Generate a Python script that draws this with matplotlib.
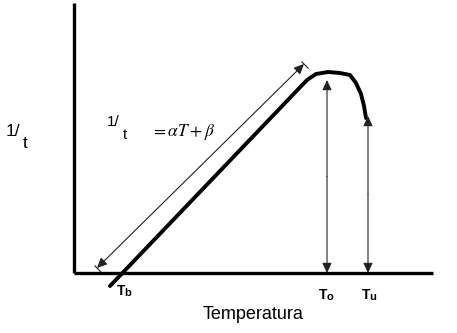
import matplotlib
matplotlib.use("Agg")
import matplotlib.pyplot as plt
import numpy as np

# Schematic coordinates (pixel-like units, y downward)
axis_x = [73.5, 73.5]
axis_y = [3, 273]
xaxis_x = [73.5, 433]
xaxis_y = [273, 273]

curve_T = [110, 307, 316, 328, 340, 350, 356, 361, 364, 366]
curve_r = [286, 80, 74, 72, 73, 75, 83, 94, 106, 118]

dim_start = (97, 268)
dim_end = (304, 64)

To_x = 327
To_top = 80
Tu_x = 368
Tu_top = 116
base_y = 273

plt.rcParams["mathtext.fontset"] = "stix"
fig = plt.figure(figsize=(4.57, 3.33), dpi=100)
ax = fig.add_axes([0, 0, 1, 1])
ax.set_xlim(0, 457)
ax.set_ylim(333, 0)
ax.axis("off")

ax.plot(axis_x, axis_y, color="black", lw=2.4, solid_capstyle="butt")
ax.plot(xaxis_x, xaxis_y, color="black", lw=2.4, solid_capstyle="butt")
ax.plot(curve_T, curve_r, color="black", lw=2.8, solid_capstyle="round", solid_joinstyle="round")

arrow_kw = dict(arrowstyle="-|>,head_length=0.6,head_width=0.28", color="#222222", lw=0.8,
                shrinkA=0, shrinkB=0)
# dimension arrow parallel to linear part
mid = ((dim_start[0] + dim_end[0]) / 2, (dim_start[1] + dim_end[1]) / 2)
ax.annotate("", xy=dim_end, xytext=mid, arrowprops=arrow_kw)
ax.annotate("", xy=dim_start, xytext=mid, arrowprops=arrow_kw)
# extension ticks
d = np.array([dim_end[0] - dim_start[0], dim_end[1] - dim_start[1]], float)
d /= np.hypot(*d)
n = -np.array([d[1], -d[0]])
for p in (dim_start, dim_end):
    ax.plot([p[0] - n[0] * 3, p[0] + n[0] * 6], [p[1] - n[1] * 3, p[1] + n[1] * 6],
            color="#222222", lw=0.8)

# vertical arrows
for x, top in ((To_x, To_top), (Tu_x, Tu_top)):
    m = (top + base_y) / 2
    ax.annotate("", xy=(x, top), xytext=(x, m), arrowprops=arrow_kw)
    ax.annotate("", xy=(x, base_y), xytext=(x, m), arrowprops=arrow_kw)

# labels
lab = dict(fontweight="bold", family="Liberation Sans")
ax.text(117, 295, "T", fontsize=10, **lab)
ax.text(124.5, 296, "b", fontsize=8, **lab)
ax.text(319, 299, "T", fontsize=10, **lab)
ax.text(326.5, 300, "o", fontsize=8, **lab)
ax.text(362, 299, "T", fontsize=10, **lab)
ax.text(369.5, 300, "u", fontsize=8, **lab)

ax.text(253, 319, "Temperatura", fontsize=13, ha="center", family="Liberation Sans")

ax.text(6, 136, "1/", fontsize=12.5, family="Liberation Sans")
ax.text(23, 148, "t", fontsize=12.5, family="Liberation Sans")

ax.text(107, 126, "1/", fontsize=11, family="Liberation Sans")
ax.text(123, 139, "t", fontsize=11, family="Liberation Sans")
ax.text(151, 136, r"$= \alpha T + \beta$", fontsize=12.5)

fig.savefig("out.png", dpi=100)
